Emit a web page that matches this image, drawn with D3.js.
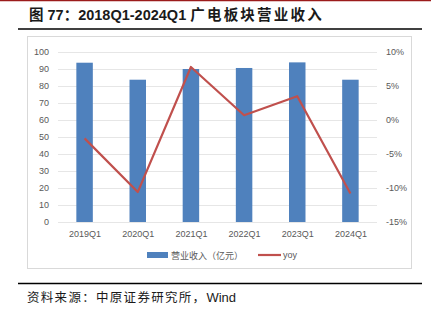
<!DOCTYPE html>
<html><head><meta charset="utf-8">
<script src="https://cdn.jsdelivr.net/npm/d3@7/dist/d3.min.js"></script>
<style>body{margin:0;background:#fff}svg{display:block}</style>
</head><body>
<script>
const categories = ["2019Q1","2020Q1","2021Q1","2022Q1","2023Q1","2024Q1"];
const revenue = [93.7, 83.7, 90.0, 90.6, 93.9, 83.7];
const yoy = [-2.7, -10.6, 7.8, 0.7, 3.5, -10.8];
const leftTicks = [0,10,20,30,40,50,60,70,80,90,100];
const rightTicks = [-15,-10,-5,0,5,10];

const W=431,H=323;
const svg=d3.select("body").append("svg").attr("width",W).attr("height",H);
const cjk='"Noto Sans CJK SC", "Noto Sans", sans-serif';
const lat='"Liberation Sans", Arial, sans-serif';

// top red line
svg.append("line").attr("x1",0).attr("x2",W).attr("y1",0.5).attr("y2",0.5).attr("stroke","#9b1b1b").attr("stroke-width",1.5);
// title
const t=svg.append("text").attr("x",29).attr("y",20).attr("font-weight","bold").attr("font-size",14.5).attr("fill","#1a1a1a");
t.append("tspan").attr("font-family",cjk).text("图");
t.append("tspan").attr("font-family",lat).text(" 77");
t.append("tspan").attr("font-family",cjk).text("：");
t.append("tspan").attr("font-family",lat).text("2018Q1-2024Q1 ");
t.append("tspan").attr("font-family",cjk).attr("letter-spacing",2.2).text("广电板块营业收入");
svg.append("line").attr("x1",18).attr("x2",422).attr("y1",29).attr("y2",29).attr("stroke","#000").attr("stroke-width",1.6);

// chart border
svg.append("rect").attr("x",27.5).attr("y",36.5).attr("width",384).attr("height",232).attr("fill","none").attr("stroke","#d9d9d9");

const x=d3.scaleBand().domain(categories).range([58,377]).paddingInner(0.69).paddingOuter(0.345);
const xp=d3.scalePoint().domain(categories).range([58,377]).padding(0.5);
const yL=d3.scaleLinear().domain([0,100]).range([222,52]);
const yR=d3.scaleLinear().domain([-15,10]).range([222,52]);

// grid
svg.append("g").selectAll("line").data(leftTicks).join("line")
 .attr("x1",58).attr("x2",377).attr("y1",d=>yL(d)+0.5).attr("y2",d=>yL(d)+0.5)
 .attr("stroke","#e6e6e6").attr("stroke-width",1);

// left axis
const gl=svg.append("g").attr("transform","translate(58,0)").call(d3.axisLeft(yL).tickValues(leftTicks).tickSize(0).tickPadding(9));
gl.select(".domain").remove();
gl.selectAll("text").attr("font-family",lat).attr("font-size",9).attr("fill","#595959");
// right axis
const gr=svg.append("g").attr("transform","translate(377,0)").call(d3.axisRight(yR).tickValues(rightTicks).tickFormat(d=>d+"%").tickSize(0).tickPadding(9));
gr.select(".domain").remove();
gr.selectAll("text").attr("font-family",lat).attr("font-size",9).attr("fill","#595959");
// bottom axis
const gb=svg.append("g").attr("transform","translate(0,222)").call(d3.axisBottom(xp).tickSize(0).tickPadding(9));
gb.select(".domain").remove();
gb.selectAll("text").attr("font-family",lat).attr("font-size",9).attr("fill","#595959");

// bars
svg.append("g").selectAll("rect").data(revenue).join("rect")
 .attr("x",(d,i)=>x(categories[i])).attr("width",x.bandwidth())
 .attr("y",d=>yL(d)).attr("height",d=>yL(0)-yL(d)).attr("fill","#4f81bd");

// line
const line=d3.line().x((d,i)=>xp(categories[i])).y(d=>yR(d));
svg.append("path").datum(yoy).attr("d",line).attr("fill","none").attr("stroke","#c0504d").attr("stroke-width",2.2).attr("stroke-linejoin","round");

// legend
const lg=svg.append("g");
lg.append("rect").attr("x",147).attr("y",252).attr("width",21).attr("height",6).attr("fill","#4f81bd");
lg.append("text").attr("x",171).attr("y",258.5).attr("font-family",cjk).attr("font-size",9).attr("fill","#595959").text("营业收入（亿元）");
lg.append("line").attr("x1",258).attr("x2",281).attr("y1",255).attr("y2",255).attr("stroke","#c0504d").attr("stroke-width",2.2);
lg.append("text").attr("x",283).attr("y",258).attr("font-family",lat).attr("font-size",9).attr("fill","#595959").text("yoy");

// source
svg.append("line").attr("x1",18).attr("x2",422).attr("y1",283.5).attr("y2",283.5).attr("stroke","#000").attr("stroke-width",1.6);
const s=svg.append("text").attr("x",27).attr("y",302).attr("font-size",12.5).attr("fill","#1a1a1a");
s.append("tspan").attr("font-family",cjk).attr("letter-spacing",1.3).text("资料来源：中原证券研究所，");
s.append("tspan").attr("font-family",lat).attr("font-size",13).text("Wind");
</script>
</body></html>
